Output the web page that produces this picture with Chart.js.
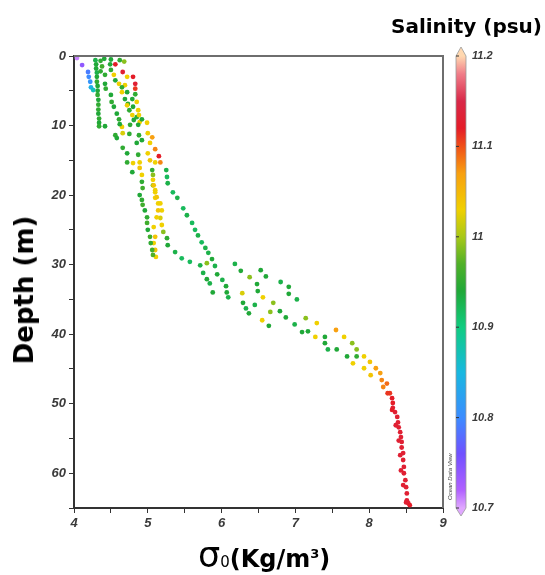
<!DOCTYPE html>
<html>
<head>
<meta charset="utf-8">
<script src="https://cdn.jsdelivr.net/npm/chart.js@4"></script>
<style>
  html, body { margin: 0; padding: 0; background: #fff; }
  #wrap { position: relative; width: 545px; height: 575px; }
  #c { position: absolute; left: 0; top: 0; }
  .lbl { position: absolute; white-space: nowrap; color: #000; font-family: 'DejaVu Sans', sans-serif; }
  #salTitle { right: 3px; top: 14px; font-size: 20px; font-weight: bold; }
  #depthTitle { left: 24px; top: 290px; font-size: 26px; font-weight: bold; transform: translate(-50%, -50%) rotate(-90deg); }
  #xTitle { left: 198px; top: 538px; line-height: 1; }
  #xTitle .sig { font-size: 35px; }
  #xTitle .sub { font-size: 15px; }
  #xTitle .unit { font-size: 24px; font-weight: bold; }
  #xTitle sup { font-size: 13px; }
</style>
</head>
<body>
<div id="wrap">
  <canvas id="c" width="545" height="575"></canvas>
  <div class="lbl" id="salTitle">Salinity (psu)</div>
  <div class="lbl" id="depthTitle">Depth (m)</div>
  <div class="lbl" id="xTitle"><span class="sig">σ</span><span class="sub">0</span><span class="unit">(Kg/m<sup>3</sup>)</span></div>
</div>
<script>
// profiles: sigma-0 (kg/m3), depth (m), salinity (psu)
const p1Sigma = [4.04, 4.11, 4.19, 4.20, 4.22, 4.23, 4.26];
const p1Depth = [0.3, 1.3, 2.3, 3.0, 3.7, 4.5, 4.9];
const p1Sal   = [10.71, 10.74, 10.79, 10.80, 10.81, 10.84, 10.87];

const p2Sigma = [4.29, 4.30, 4.30, 4.31, 4.31, 4.31, 4.32, 4.32, 4.32, 4.33, 4.33, 4.33, 4.33, 4.34, 4.34, 4.34, 4.42, 4.36, 4.38, 4.36];
const p2Depth = [0.6, 1.2, 1.8, 2.4, 3.0, 3.7, 4.3, 5.0, 5.6, 6.3, 7.0, 7.7, 8.3, 9.0, 9.6, 10.1, 10.1, 0.7, 1.5, 2.2];
const p2Sal   = [10.93, 10.94, 10.94, 10.93, 10.94, 10.95, 10.94, 10.94, 10.95, 10.94, 10.95, 10.95, 10.94, 10.95, 10.94, 10.95, 10.94, 10.95, 10.96, 10.95];

const p3Sigma = [4.41, 4.42, 4.42, 4.43, 4.50, 4.51, 4.54, 4.58, 4.61, 4.62, 4.56, 4.58, 4.66, 4.72, 4.72, 4.79, 4.92, 4.93, 4.89, 4.92, 4.93, 4.96, 4.99, 4.99, 5.00, 5.03, 5.04, 5.06, 5.07];
const p3Depth = [0.4, 2.7, 4.0, 4.7, 5.6, 6.6, 7.3, 8.3, 9.1, 9.8, 11.4, 11.8, 13.2, 14.0, 15.3, 16.7, 18.1, 19.0, 20.0, 20.7, 21.4, 22.2, 23.2, 24.0, 25.0, 26.0, 26.9, 27.9, 28.6];
const p3Sal   = [10.94, 10.95, 10.94, 10.95, 10.94, 10.95, 10.94, 10.94, 10.95, 10.94, 10.95, 10.94, 10.95, 10.94, 10.95, 10.94, 10.95, 10.96, 10.94, 10.95, 10.96, 10.94, 10.95, 10.96, 10.94, 10.96, 10.95, 10.96, 10.97];

const p4Sigma = [4.49, 4.50, 4.54, 4.56, 4.61, 4.65, 4.65, 4.69, 4.72, 4.75, 4.79, 4.81, 4.65, 4.66, 4.75, 4.85, 4.87, 4.80, 4.89, 4.89, 4.92, 5.07, 5.08, 5.10, 5.12, 5.14, 5.14, 5.12, 5.08, 5.10, 5.08, 5.10, 5.11];
const p4Depth = [1.2, 2.0, 2.7, 3.5, 4.0, 4.5, 5.2, 6.2, 7.1, 7.8, 8.5, 9.2, 10.2, 11.1, 11.2, 12.5, 14.2, 15.4, 15.3, 16.1, 17.1, 17.8, 18.6, 19.3, 20.3, 21.2, 22.2, 23.2, 24.6, 26.0, 26.9, 27.9, 28.9];
const p4Sal   = [10.94, 10.95, 11.03, 10.94, 11.03, 10.95, 11.03, 10.94, 11.03, 10.95, 11.03, 10.94, 11.03, 11.02, 10.95, 10.94, 10.95, 11.03, 11.03, 11.04, 11.03, 11.03, 11.04, 11.03, 11.04, 11.03, 11.04, 11.03, 11.03, 11.04, 11.03, 11.04, 11.03];

const p5Sigma = [4.50, 4.62, 4.68, 4.56, 4.66, 4.72, 4.80, 4.83, 4.83, 4.69, 4.72, 4.83, 4.79, 4.85, 4.73, 4.80, 4.87, 4.85, 4.89, 4.88, 4.92, 4.76, 4.87, 4.99, 4.88, 5.00, 5.06, 4.92, 5.03, 5.10, 5.00, 5.03, 5.15, 5.17, 5.10, 5.06, 5.07, 5.07, 5.10, 5.10];
const p5Depth = [0.5, 0.6, 0.8, 1.2, 2.3, 3.0, 3.0, 4.0, 4.7, 4.2, 5.2, 5.5, 6.2, 6.6, 6.9, 7.3, 7.8, 8.8, 9.5, 8.5, 9.1, 9.9, 9.9, 9.6, 11.4, 11.1, 11.7, 12.1, 12.5, 13.4, 14.0, 15.0, 14.4, 15.3, 15.3, 16.4, 17.1, 18.6, 19.6, 20.4];
const p5Sal   = [10.94, 10.95, 10.99, 11.12, 11.13, 11.03, 11.12, 11.13, 11.11, 11.03, 10.94, 10.95, 10.94, 11.03, 10.95, 10.94, 11.03, 10.95, 11.03, 11.03, 10.94, 10.95, 10.94, 11.03, 10.95, 11.03, 11.07, 10.94, 11.03, 11.08, 11.03, 11.04, 11.12, 11.08, 11.03, 10.95, 10.99, 10.99, 11.03, 11.03];

const p6Sigma = [5.25, 5.26, 5.27, 5.34, 5.40, 5.48, 5.53, 5.60, 5.64, 5.68, 5.73, 5.78, 5.82, 5.87, 5.91, 5.94, 6.01, 6.06, 6.07];
const p6Depth = [16.4, 17.4, 18.3, 19.6, 20.4, 21.9, 22.9, 24.0, 25.0, 25.8, 26.8, 27.6, 28.3, 29.2, 30.2, 31.4, 32.2, 33.1, 34.0];
const p6Sal   = [10.93, 10.92, 10.93, 10.92, 10.93, 10.92, 10.93, 10.92, 10.92, 10.93, 10.92, 10.93, 10.93, 10.94, 10.93, 10.94, 10.93, 10.94, 10.94];

const p7Sigma = [5.17, 5.19, 5.17, 5.19, 5.21, 5.26, 5.27, 5.37, 5.46, 5.57, 5.71, 5.80, 5.75, 5.80, 5.84, 5.88, 6.09];
const p7Depth = [21.2, 22.2, 23.3, 24.3, 25.3, 26.2, 27.2, 28.2, 29.1, 29.6, 30.1, 29.8, 31.2, 32.1, 32.7, 34.0, 34.7];
const p7Sal   = [11.03, 11.03, 11.02, 11.03, 10.99, 10.95, 10.94, 10.93, 10.92, 10.92, 10.93, 10.99, 10.93, 10.94, 10.93, 10.94, 10.93];

const p8Sigma = [6.18, 6.26, 6.38, 6.48, 6.49, 6.56, 6.28, 6.29, 6.33, 6.37, 6.45, 6.53, 6.60, 6.80, 6.91, 6.91, 7.02, 6.70, 6.66, 6.55, 6.79, 6.64, 6.87, 6.99, 7.14, 7.29];
const p8Depth = [29.9, 30.9, 31.8, 32.8, 33.8, 34.7, 34.1, 35.5, 36.3, 37.0, 35.8, 30.8, 31.7, 32.5, 33.2, 34.2, 35.0, 35.5, 36.8, 38.0, 36.7, 38.8, 37.6, 38.6, 37.7, 38.4];
const p8Sal   = [10.93, 10.94, 10.99, 10.94, 10.94, 11.03, 11.02, 10.94, 10.93, 10.94, 10.93, 10.94, 10.94, 10.93, 10.94, 10.94, 10.93, 10.99, 10.99, 11.03, 10.94, 10.94, 10.94, 10.93, 10.99, 11.03];

const p9Sigma = [7.09, 7.17, 7.27, 7.40, 7.40, 7.44, 7.56, 7.55, 7.66, 7.77, 7.70, 7.83, 7.83, 7.78, 7.93, 8.01, 7.93, 8.02, 8.09, 8.15, 8.17, 8.19, 8.24, 8.25,
  8.28, 8.31, 8.32, 8.32, 8.35, 8.38, 8.39, 8.40, 8.42, 8.43, 8.44, 8.44, 8.46, 8.46, 8.47, 8.47, 8.49, 8.50, 8.51, 8.51, 8.53, 8.31, 8.36, 8.40, 8.42, 8.43, 8.46, 8.55, 8.50];
const p9Depth = [39.7, 39.6, 40.4, 40.4, 41.3, 42.2, 42.2, 39.4, 40.4, 41.3, 43.2, 42.2, 43.2, 44.2, 43.2, 44.0, 44.9, 45.9, 44.9, 45.6, 46.6, 47.6, 47.1, 48.5,
  48.5, 49.2, 49.9, 50.6, 51.2, 51.9, 52.7, 53.4, 54.1, 54.8, 55.5, 56.3, 57.1, 58.1, 59.1, 60.0, 61.0, 62.0, 62.9, 63.9, 64.3, 50.9, 53.1, 55.3, 57.4, 59.6, 61.7, 64.6, 64.2];
const p9Sal   = [10.94, 10.94, 11.03, 10.94, 10.94, 10.93, 10.94, 11.07, 11.03, 10.99, 10.94, 10.99, 10.95, 11.03, 11.03, 11.04, 11.03, 11.04, 11.07, 11.07, 11.08, 11.08, 11.09, 11.11,
  11.11, 11.12, 11.12, 11.13, 11.13, 11.13, 11.13, 11.13, 11.13, 11.13, 11.13, 11.13, 11.13, 11.13, 11.13, 11.13, 11.13, 11.13, 11.13, 11.13, 11.13, 11.12, 11.13, 11.13, 11.13, 11.13, 11.13, 11.12, 11.13];

const profiles = [
  [p1Sigma, p1Depth, p1Sal], [p2Sigma, p2Depth, p2Sal], [p3Sigma, p3Depth, p3Sal],
  [p4Sigma, p4Depth, p4Sal], [p5Sigma, p5Depth, p5Sal], [p6Sigma, p6Depth, p6Sal],
  [p7Sigma, p7Depth, p7Sal], [p8Sigma, p8Depth, p8Sal], [p9Sigma, p9Depth, p9Sal],
];

const salMin = 10.7, salMax = 11.2;

// ODV-like rainbow palette
const salStops = [
  [10.70, '#e0a8ff'], [10.72, '#b060ff'], [10.76, '#7050ff'], [10.80, '#3c8cff'],
  [10.85, '#18b8e0'], [10.90, '#10cc80'], [10.94, '#20a838'], [10.97, '#50b028'],
  [11.00, '#a8c818'], [11.03, '#f0d000'], [11.07, '#f8a010'], [11.10, '#f05018'],
  [11.12, '#e41c28'], [11.15, '#d82848'], [11.18, '#f07c88'], [11.20, '#ffd8b0'],
];

function hexRgb(h) {
  return [1, 3, 5].map(i => parseInt(h.slice(i, i + 2), 16));
}

function salColor(v) {
  if (v <= salStops[0][0]) return salStops[0][1];
  for (let i = 1; i < salStops.length; i++) {
    const [v1, c1] = salStops[i];
    if (v <= v1) {
      const [v0, c0] = salStops[i - 1];
      const t = (v - v0) / (v1 - v0);
      const a = hexRgb(c0), b = hexRgb(c1);
      const m = a.map((x, k) => Math.round(x + (b[k] - x) * t));
      return `rgb(${m[0]},${m[1]},${m[2]})`;
    }
  }
  return salStops[salStops.length - 1][1];
}

const tickFont = { family: 'Liberation Sans', size: 13, style: 'italic', weight: 'bold' };
const tickColor = '#3a3a3a';

const frameAndBar = {
  id: 'frameAndBar',
  afterDraw(chart) {
    const { ctx, chartArea: a } = chart;
    const sal = chart.scales.sal;
    ctx.save();
    // top and right frame lines
    ctx.strokeStyle = '#6e6e6e';
    ctx.lineWidth = 2;
    ctx.beginPath();
    ctx.moveTo(a.left, a.top);
    ctx.lineTo(a.right, a.top);
    ctx.lineTo(a.right, a.bottom);
    ctx.stroke();

    // colour bar
    const x0 = a.right + 13, w = 10;
    const yTop = sal.getPixelForValue(salMax), yBot = sal.getPixelForValue(salMin);
    const g = ctx.createLinearGradient(0, yTop, 0, yBot);
    salStops.forEach(([v, c]) => g.addColorStop((salMax - v) / (salMax - salMin), c));
    ctx.fillStyle = g;
    ctx.beginPath();
    ctx.moveTo(x0, yTop);
    ctx.lineTo(x0 + w, yTop);
    ctx.lineTo(x0 + w, yBot);
    ctx.lineTo(x0, yBot);
    ctx.closePath();
    ctx.fill();
    ctx.fillStyle = salStops[salStops.length - 1][1];
    ctx.beginPath();
    ctx.moveTo(x0, yTop); ctx.lineTo(x0 + w / 2, yTop - 9); ctx.lineTo(x0 + w, yTop); ctx.closePath();
    ctx.fill();
    ctx.fillStyle = salStops[0][1];
    ctx.beginPath();
    ctx.moveTo(x0, yBot); ctx.lineTo(x0 + w / 2, yBot + 8); ctx.lineTo(x0 + w, yBot); ctx.closePath();
    ctx.fill();
    ctx.strokeStyle = '#9a9a9a';
    ctx.lineWidth = 0.8;
    ctx.beginPath();
    ctx.moveTo(x0, yTop); ctx.lineTo(x0 + w / 2, yTop - 9); ctx.lineTo(x0 + w, yTop);
    ctx.lineTo(x0 + w, yBot); ctx.lineTo(x0 + w / 2, yBot + 8); ctx.lineTo(x0, yBot);
    ctx.closePath();
    ctx.stroke();
    // small marks on the bar at each labelled value
    ctx.strokeStyle = '#333';
    ctx.lineWidth = 1;
    sal.ticks.forEach(t => {
      const y = sal.getPixelForValue(t.value);
      ctx.beginPath(); ctx.moveTo(x0, y); ctx.lineTo(x0 + 3, y); ctx.stroke();
    });

    // ODV credit
    ctx.translate(a.right + 7, a.bottom - 8);
    ctx.rotate(-Math.PI / 2);
    ctx.font = 'italic 6px "Liberation Sans"';
    ctx.fillStyle = '#444';
    ctx.textBaseline = 'middle';
    ctx.fillText('Ocean Data View', 0, 0);
    ctx.restore();
  }
};

const datasets = profiles.map(([sig, dep, sal], i) => ({
  label: 'Profile ' + (i + 1),
  data: sig.map((s, k) => ({ x: s, y: dep[k] })),
  pointBackgroundColor: sal.map(salColor),
  pointBorderWidth: 0,
  pointRadius: 2.4,
  showLine: false,
}));

new Chart(document.getElementById('c'), {
  type: 'scatter',
  data: { datasets },
  options: {
    responsive: false,
    animation: false,
    layout: { padding: { top: 56, right: 3, bottom: 0, left: 0 } },
    plugins: { legend: { display: false }, tooltip: { enabled: false } },
    scales: {
      x: {
        type: 'linear', position: 'bottom', min: 4, max: 9,
        afterFit(s) { s.height = 67; },
        ticks: {
          stepSize: 0.5, padding: 3, maxRotation: 0, font: tickFont, color: tickColor,
          callback: v => Number.isInteger(v) ? v : '',
        },
        grid: { drawOnChartArea: false, color: '#333', tickLength: 5 },
        border: { color: '#333', width: 2 },
      },
      y: {
        type: 'linear', position: 'left', reverse: true, min: 0, max: 65,
        afterFit(s) { s.width = 74; },
        ticks: {
          stepSize: 5, padding: 3, font: tickFont, color: tickColor,
          callback: v => v % 10 === 0 ? v : '',
        },
        grid: { drawOnChartArea: false, color: '#333', tickLength: 5 },
        border: { color: '#333', width: 2 },
      },
      sal: {
        type: 'linear', position: 'right', min: salMin, max: salMax,
        afterFit(s) { s.width = 99; },
        ticks: {
          stepSize: 0.1, padding: 21, font: { ...tickFont, size: 11 }, color: tickColor,
          callback: v => +v.toFixed(1),
        },
        grid: { display: false },
        border: { display: false },
      },
    },
  },
  plugins: [frameAndBar],
});
</script>
</body>
</html>
